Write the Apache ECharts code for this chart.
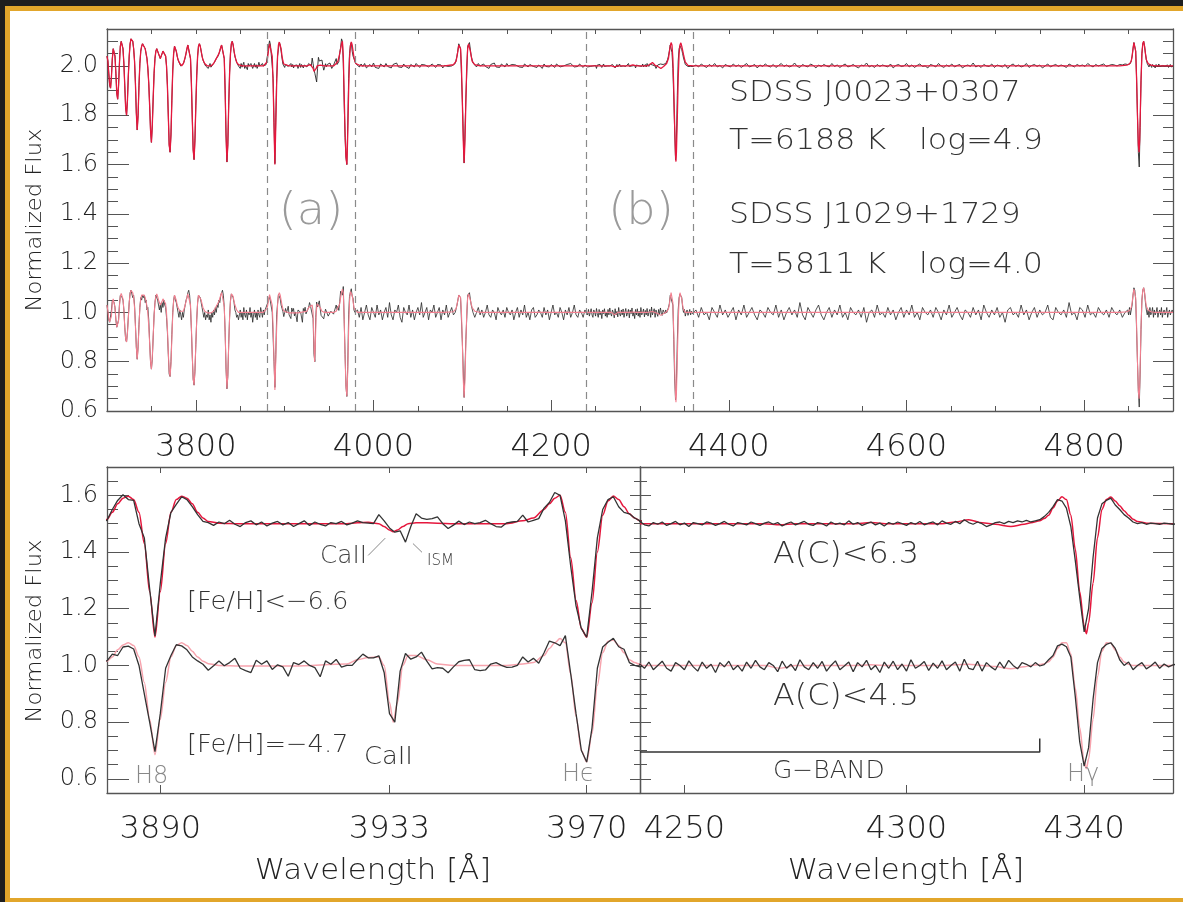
<!DOCTYPE html>
<html><head><meta charset="utf-8">
<script src="https://cdn.jsdelivr.net/npm/echarts@6/dist/echarts.min.js"></script>
<style>
html,body{margin:0;padding:0;background:#1e1e1e;width:1183px;height:902px;overflow:hidden}
#frame{position:absolute;left:5px;top:6px;width:1178px;height:896px;box-sizing:border-box;background:#fff;border-left:5px solid #e2a62b;border-top:5px solid #e2a62b;border-bottom:4px solid #e2a62b}
#chart{position:absolute;left:0;top:0;width:1183px;height:902px}
</style></head><body><div id="frame"></div><div id="chart"></div>
<script>
// ---------------- DATA (normalized flux, continuum = 1) ----------------
// Observed spectra are sampled in segments: wavelength = segStart + i*segStep
const segStart = [3700, 3880, 3982, 4240, 4363, 4850];
const segStep  = [1, 1, 2, 1, 3, 1];

// Star A: SDSS J0023+0307 (upper), Star B: SDSS J1029+1729 (lower)
const obsA1 = [1.04,1.02,0.97,0.92,0.91,0.96,1.03,1.07,1.07,1.04,
0.97,0.89,0.865,0.92,1.01,1.08,1.10,1.10,1.07,1.01,
0.92,0.83,0.80,0.86,0.96,1.04,1.09,1.11,1.11,1.10,
1.07,1.02,0.93,0.81,0.74,0.80,0.92,1.01,1.06,1.08,
1.09,1.09,1.085,1.07,1.05,1.03,0.99,0.93,0.84,0.74,
0.69,0.76,0.87,0.97,1.03,1.06,1.07,1.065,1.05,1.04,
1.03,1.035,1.05,1.06,1.06,1.055,1.04,1.00,0.92,0.80,
0.68,0.65,0.72,0.86,0.98,1.05,1.08,1.075,1.06,1.04,
1.025,1.015,1.01,1.00,1.005,0.995,1.01,1.02,1.035,1.05,
1.07,1.085,1.09,1.08,1.03,0.93,0.79,0.66,0.62,0.70,
0.84,0.96,1.04,1.08,1.09,1.08,1.06,1.04,1.025,1.015,
1.01,1.00,0.995,1.005,0.99,1.00,1.01,0.995,1.00,1.005,
1.01,1.015,1.02,1.03,1.035,1.04,1.05,1.06,1.075,1.085,
1.09,1.08,1.03,0.90,0.72,0.61,0.68,0.84,0.97,1.05,
1.09,1.10,1.085,1.06,1.04,1.025,1.015,1.01,1.00,1.005,
0.99,1.01,0.995,1.0,1.015,0.99,1.0,1.005,0.985,1.01,
1.0,0.995,1.01,1.005,0.99,1.0,1.01,0.995,1.005,0.99,
1.0,1.015,1.0,0.995,1.005,1.01,1.0,1.005,1.0,1.005];
const obsA2 = [1.012,1.05,1.082,1.102,1.085,1.082,1.0,0.95,0.77,0.604,0.79,0.95,1.04,1.068,1.095,1.085,1.06,1.032,1.008,1.004,
0.994,1.006,1.0,1.012,0.998,0.99,1.004,1.01,0.996,1.006,0.992,1.002,1.008,0.996,1.004,0.99,1.0,1.01,0.994,1.006,0.998,0.992,1.004,1.0,1.008,0.996,1.002,1.01,1.004,1.002,
1.0,1.032,1.01,0.985,0.97,0.975,0.935,0.99,1.035,1.02,1.015,1.018,1.024,1.0,0.983,0.995,1.009,0.997,1.006,1.0,1.004,1.012,1.0,0.99,0.988,1.003,1.006,1.008,1.03,1.006,1.012,1.018,
1.055,1.075,1.11,1.10,1.01,0.85,0.71,0.63,0.60,0.76,0.95,1.05,1.085,1.095,1.06,1.04,1.035,1.02,1.01];
const obsA3 = [1.004,0.996,1.008,0.998,1.01,0.992,1.0,1.006,0.996,1.012,
0.994,1.002,0.99,1.008,1.0,0.996,1.01,0.998,1.004,0.992,
1.006,1.0,1.012,0.996,1.002,0.994,1.008,0.998,1.004,0.99,
1.006,1.0,0.996,1.01,1.002,0.994,1.006,0.998,1.004,1.012,
0.996,1.0,1.008,1.0,0.994,1.006,0.998,1.004,0.992,1.002,
1.008,0.998,1.004,1.0,1.006,
1.01,1.04,1.09,1.07,0.86,0.606,0.87,1.08,1.095,1.04,1.012,
1.006,0.996,1.01,1.0,0.994,1.008,0.998,1.004,0.99,1.006,
1.002,1.012,0.996,1.0,0.994,1.008,1.002,0.996,1.01,1.0,
0.992,1.006,0.998,1.004,1.01,0.996,1.002,0.994,1.008,1.0,
0.996,1.006,1.012,0.998,1.002,0.994,1.004,1.0,0.99,1.008,
0.998,1.004,0.996,1.006,1.0,0.994,1.008,1.002,0.996,1.004,
1.0,0.992,1.006,0.998,1.01,1.002,0.996,1.004,0.998,1.008,
1.0,0.994,1.004];
const obsA4 = [1.008,0.996,0.992,1.004,0.998,1.006,0.994,1.0,1.008,0.996,
1.002,0.99,1.004,1.0,0.996,1.006,1.002,0.994,1.0,1.008,
0.998,0.992,1.004,1.0,0.996,1.006,1.0,0.994,1.002,1.006,
0.998,1.004,0.992,1.0,1.006,0.996,1.002,1.008,0.998,0.994,
1.004,1.0,0.992,1.006,0.998,1.002,0.996,1.01,0.998,1.004,
0.994,1.0,1.006,0.996,1.002,0.992,1.004,0.998,1.006,1.0,
0.994,1.004,0.998,1.008,0.996,1.002,1.006,0.996,1.01,1.002,
0.998,1.008,1.0,1.014,1.004,0.998,1.006,1.0,0.99,0.996,
1.004,1.006,1.0,1.008,1.004,1.01,1.006,1.012,
1.006,1.01,1.014,1.025,1.04,1.06,1.085,1.08,1.055,0.99,0.87,0.74,0.618,0.70,0.88,1.02,1.07,1.082,1.09,1.066,1.05,1.032,1.02,1.006,1.0,1.004,0.998,1.002,1.0,0.998,1.002,1.0,0.998];
const obsA5 = [1.004,0.996,1.008,1.0,0.994,1.006,0.998,1.01,0.996,1.002,
0.992,1.006,1.0,0.996,1.008,0.998,1.004,0.994,1.002,1.01,
0.996,1.0,1.006,0.992,1.004,0.998,1.008,1.0,0.996,1.006,
0.994,1.002,1.01,0.998,1.004,0.996,1.0,1.012,0.998,0.994,
1.006,1.0,0.996,1.008,1.002,0.992,1.004,0.998,1.006,1.0,
0.996,1.01,0.998,1.004,0.994,1.002,1.008,0.996,1.0,1.006,
0.998,0.992,1.004,1.0,1.012,0.996,1.002,0.994,1.006,0.998,
1.004,1.0,0.996,1.008,0.992,1.002,1.006,0.998,1.0,1.01,
0.996,1.004,0.994,1.002,1.008,0.998,1.0,0.992,1.006,1.002,
0.996,1.01,1.0,0.994,1.004,0.998,1.008,0.996,1.002,1.006,
0.992,1.0,1.004,0.998,1.012,0.996,1.002,0.994,1.006,1.0,
0.998,1.008,0.994,1.004,1.0,0.996,1.006,0.99,1.002,1.008,
0.998,1.004,0.996,1.0,1.01,0.994,1.002,1.006,0.998,1.004,
0.992,1.0,1.008,0.996,1.002,1.006,0.998,1.004,1.0,0.994,
1.008,1.002,0.996,1.006,1.0,1.004,0.998,1.01,1.002,0.996,
1.006,1.0,1.004,1.008,0.998,1.002,1.006,1.004,1.0,1.006,
1.004,1.008,1.006];
const obsA6 = [1.0,1.006,1.01,1.02,1.04,1.07,1.095,1.09,1.06,0.95,0.80,0.65,0.59,0.75,0.94,1.05,1.09,1.10,1.08,1.05,1.025,1.01,
1.004,0.996,1.008,1.0,0.994,1.006,0.998,1.002,0.992,1.006,1.0,0.996,1.008,0.998,1.004,0.994,1.002,1.006,0.996,1.0,1.008,0.998,1.004,0.994,1.0,1.006,0.996,1.002,1.0];

const obsB1 = [1.03,1.00,0.97,0.96,0.965,1.01,1.05,1.055,1.04,1.02,
0.97,0.94,0.935,0.97,1.03,1.07,1.075,1.06,1.05,1.01,
0.94,0.89,0.88,0.92,0.98,1.04,1.08,1.09,1.085,1.06,
1.07,1.03,0.95,0.86,0.81,0.86,0.95,1.02,1.06,1.05,
1.07,1.06,1.07,1.04,1.05,1.01,1.02,0.97,0.88,0.80,
0.77,0.81,0.90,0.99,1.04,1.07,1.075,1.05,1.03,1.01,
1.03,1.00,1.04,1.02,1.05,1.03,1.02,0.98,0.92,0.83,
0.75,0.74,0.80,0.91,1.00,1.05,1.07,1.05,1.04,1.02,
1.00,0.98,1.01,0.99,0.97,1.00,0.98,1.01,1.03,1.05,
1.06,1.08,1.09,1.07,1.02,0.93,0.82,0.73,0.705,0.76,
0.87,0.97,1.04,1.07,1.075,1.06,1.04,1.02,1.00,0.98,
1.00,0.97,0.99,0.98,1.01,0.97,0.99,0.96,1.00,0.98,
1.01,0.99,1.02,1.00,1.03,1.02,1.05,1.04,1.07,1.08,
1.09,1.07,1.02,0.92,0.77,0.69,0.74,0.87,0.98,1.05,
1.075,1.07,1.06,1.04,1.01,1.00,0.98,0.99,0.97,0.99,
1.01,0.98,1.00,0.97,1.02,0.99,0.98,1.01,0.97,1.00,
0.99,1.02,0.98,1.00,0.96,0.99,1.01,0.98,1.00,0.97,
1.01,0.99,0.98,1.02,1.00,0.98,1.01,0.99,1.01,1.015];
const obsB2 = [1.016,1.04,1.035,1.065,1.068,1.058,1.0,0.90,0.80,0.696,0.83,0.99,1.035,1.073,1.069,1.055,1.03,1.016,1.004,0.983,
0.999,1.016,0.999,1.01,1.025,0.99,0.982,0.975,1.018,1.004,1.016,0.986,1.002,0.995,0.962,1.01,1.003,1.016,1.0,0.992,0.96,1.016,1.004,1.021,0.994,1.0,1.0,1.021,1.04,1.027,1.027,1.034,
0.975,0.83,0.80,0.98,1.042,1.022,1.03,1.047,1.015,0.988,0.992,0.99,0.974,0.995,1.013,1.018,1.02,0.985,0.982,0.984,1.005,1.01,1.0,0.993,0.994,1.0,1.03,1.012,1.025,1.008,
1.045,1.086,1.08,1.07,1.105,0.97,0.83,0.70,0.659,0.78,0.99,1.065,1.082,1.096,1.066,1.057,1.01,1.0,0.995];
const obsB3 = [1.01,0.98,1.02,0.97,1.0,1.03,0.99,0.97,1.02,1.0,
0.98,1.03,0.99,1.01,0.97,1.0,1.02,0.98,1.04,0.99,
0.97,1.01,1.0,1.03,0.98,0.96,1.02,1.0,0.99,1.03,
0.98,1.01,0.97,1.0,1.02,0.99,1.04,0.98,1.0,1.02,
0.97,1.01,1.0,1.03,0.98,1.0,1.02,0.97,1.01,0.99,
1.03,0.98,1.0,1.02,0.99,
1.0,1.03,1.07,1.06,0.88,0.655,0.89,1.07,1.08,1.03,1.0,
0.98,1.0,1.02,0.99,1.01,0.98,1.0,1.03,0.99,0.98,
1.01,1.0,0.97,1.02,1.0,0.99,1.01,0.98,1.02,1.0,
0.99,1.01,0.97,1.0,1.02,0.98,1.01,0.99,1.03,0.98,
1.0,0.97,1.01,1.02,0.98,0.99,1.01,1.0,0.98,1.02,
0.99,1.01,0.97,1.0,1.03,0.99,1.0,0.98,1.02,1.0,
0.97,1.01,0.99,1.02,0.98,1.0,1.03,0.99,0.98,1.01,
1.0,0.98,1.01];
const obsB4 = [1.004,0.99,1.012,0.985,1.0,1.015,0.99,0.98,1.01,1.0,
0.985,1.016,0.995,0.98,1.012,0.99,1.004,0.975,1.01,0.995,
1.015,0.985,1.0,0.98,1.012,0.99,1.018,0.995,0.985,1.01,
1.0,0.978,1.015,0.99,1.004,0.982,1.02,0.995,0.985,1.01,
0.99,1.014,0.98,1.0,1.016,0.985,0.998,1.012,0.978,1.01,
0.995,1.018,0.985,1.0,0.975,1.012,0.99,1.015,0.985,1.005,
0.98,1.02,0.99,1.0,1.014,0.982,1.008,0.99,1.016,0.985,
1.0,1.012,0.98,1.022,0.99,0.985,1.015,0.98,1.01,0.995,
0.984,1.012,0.99,1.018,1.0,0.988,1.01,1.004,
0.995,1.01,0.998,1.003,1.02,1.035,1.069,1.075,1.066,1.03,0.89,0.73,0.645,0.71,0.88,1.01,1.06,1.074,1.08,1.06,1.02,1.0,1.012,0.985,1.0,1.01,0.988,0.998,1.012,0.99,1.005,0.995,1.002];
const obsB5 = [1.01,0.98,1.02,0.99,1.0,0.97,1.02,1.0,0.98,1.03,
0.99,1.01,0.98,1.0,1.02,0.97,1.01,0.99,1.03,0.98,
1.0,1.02,0.99,0.97,1.01,1.0,0.98,1.02,1.0,0.99,
1.03,0.98,1.01,0.97,1.0,1.02,0.99,1.01,0.98,1.04,
0.99,0.97,1.02,1.0,0.98,1.01,1.03,0.99,0.97,1.0,
1.02,0.98,1.01,0.99,1.03,0.98,1.0,0.97,1.02,1.0,
0.99,1.01,0.98,1.02,0.96,1.0,1.01,0.98,1.03,0.99,
1.0,0.98,1.02,0.99,1.01,0.97,1.0,1.02,0.98,1.01,
0.99,1.03,0.98,1.0,0.97,1.02,1.0,0.99,1.01,0.98,
1.02,1.0,0.97,1.01,0.99,1.03,0.98,1.0,1.02,0.99,
0.97,1.01,1.0,0.98,1.02,0.99,1.01,0.97,1.03,1.0,
0.98,1.01,0.99,1.02,0.98,1.0,0.96,1.01,1.02,0.99,
1.0,0.98,1.03,0.99,1.01,0.97,1.0,1.02,0.98,1.01,
0.99,1.0,1.03,0.98,0.97,1.02,1.0,0.99,1.01,0.98,
1.04,0.99,1.0,0.97,1.02,1.01,0.98,1.03,0.99,1.0,
0.98,1.02,1.0,0.99,1.01,0.98,1.02,1.0,0.99,1.01,
0.98,1.0,1.01];
const obsB6 = [0.99,1.02,0.99,1.01,1.03,1.07,1.10,1.09,1.05,0.93,0.80,0.68,0.616,0.75,0.93,1.05,1.09,1.10,1.08,1.04,1.01,0.99,
1.01,0.98,1.02,0.99,1.0,1.02,0.98,1.01,0.99,1.0,1.02,0.98,1.0,1.01,0.99,1.02,0.98,1.0,1.01,0.99,1.0,1.02,0.98,1.0,1.01,0.99,1.0,1.01,1.0];

// Model (synthetic) spectra: [wavelength, model A, model B]
const modelBlue = [[3700,1.04,1.03],[3701,1.02,1.005],[3702,0.97,0.975],[3703,0.925,0.962],[3704,0.91,0.96],[3705,0.955,0.985],[3706,1.03,1.04],[3707,1.07,1.055],[3708,1.07,1.05],[3709,1.04,1.02],[3710,0.97,0.97],[3711,0.89,0.94],[3712,0.865,0.935],[3713,0.92,0.965],[3714,1.01,1.025],[3715,1.08,1.065],[3716,1.10,1.077],[3717,1.10,1.075],[3718,1.07,1.055],[3719,1.01,1.01],[3720,0.92,0.94],[3721,0.83,0.893],[3722,0.80,0.88],[3723,0.86,0.915],[3724,0.96,0.975],[3725,1.04,1.04],[3726,1.09,1.075],[3727,1.11,1.09],[3728,1.11,1.09],[3729,1.10,1.08],[3730,1.07,1.06],[3731,1.02,1.02],[3732,0.93,0.945],[3733,0.81,0.86],[3734,0.74,0.81],[3735,0.80,0.855],[3736,0.92,0.945],[3737,1.01,1.02],[3738,1.06,1.055],[3739,1.08,1.07],[3740,1.09,1.075],[3741,1.09,1.075],[3742,1.085,1.07],[3743,1.07,1.06],[3744,1.05,1.045],[3745,1.03,1.025],[3746,0.99,0.995],[3747,0.93,0.945],[3748,0.84,0.875],[3749,0.74,0.80],[3750,0.69,0.77],[3751,0.76,0.82],[3752,0.87,0.905],[3753,0.97,0.985],[3754,1.03,1.04],[3755,1.06,1.065],[3756,1.07,1.075],[3757,1.065,1.065],[3758,1.05,1.05],[3759,1.04,1.04],[3760,1.03,1.03],[3761,1.035,1.035],[3762,1.05,1.045],[3763,1.06,1.055],[3764,1.06,1.055],[3765,1.055,1.05],[3766,1.04,1.035],[3767,1.00,1.0],[3768,0.92,0.935],[3769,0.80,0.84],[3770,0.68,0.76],[3771,0.65,0.74],[3772,0.72,0.79],[3773,0.86,0.895],[3774,0.98,0.99],[3775,1.05,1.045],[3776,1.08,1.07],[3777,1.075,1.065],[3778,1.06,1.05],[3779,1.04,1.03],[3780,1.025,1.02],[3782,1.01,1.005],[3784,1.0,1.0],[3786,1.01,1.005],[3788,1.035,1.03],[3790,1.07,1.06],[3791,1.085,1.075],[3792,1.09,1.08],[3793,1.08,1.075],[3794,1.03,1.03],[3795,0.93,0.94],[3796,0.79,0.83],[3797,0.66,0.73],[3798,0.62,0.705],[3799,0.70,0.765],[3800,0.84,0.87],[3801,0.96,0.97],[3802,1.04,1.04],[3803,1.08,1.07],[3804,1.09,1.075],[3805,1.08,1.065],[3806,1.06,1.05],[3807,1.04,1.035],[3808,1.025,1.02],[3810,1.01,1.005],[3813,1.0,0.998],[3817,1.0,0.998],[3820,1.01,1.005],[3823,1.03,1.025],[3826,1.05,1.045],[3828,1.075,1.07],[3829,1.085,1.08],[3830,1.09,1.085],[3831,1.08,1.075],[3832,1.03,1.025],[3833,0.90,0.92],[3834,0.72,0.78],[3835,0.61,0.69],[3836,0.68,0.745],[3837,0.84,0.87],[3838,0.97,0.98],[3839,1.05,1.045],[3840,1.09,1.075],[3841,1.10,1.075],[3842,1.085,1.065],[3843,1.06,1.045],[3844,1.04,1.03],[3846,1.015,1.01],[3848,1.005,1.0],[3852,1.0,1.0],[3876,1.0,1.0],[3878,1.002,1.0]];
const modelH8CaHe = [[3880,1.015,1.015],[3881,1.04,1.03],[3882,1.07,1.055],[3883,1.09,1.072],[3884,1.097,1.08],[3885,1.085,1.07],[3886,1.04,1.03],[3887,0.93,0.94],[3888,0.76,0.81],[3889,0.60,0.685],[3890,0.76,0.81],[3891,0.93,0.94],[3892,1.04,1.03],[3893,1.085,1.07],[3894,1.097,1.08],[3895,1.09,1.07],[3896,1.07,1.05],[3897,1.04,1.03],[3898,1.02,1.015],[3899,1.008,1.006],[3901,1.002,1.0],[3905,1.0,0.998],[3915,1.0,0.998],[3925,1.0,1.005],[3927,1.003,1.02],[3929,1.005,1.028],[3931,1.0,1.03],[3932,0.99,1.0],[3933,0.978,0.87],[3933.7,0.972,0.80],[3934.5,0.978,0.87],[3935.5,0.99,1.0],[3936.5,1.0,1.035],[3938,1.003,1.035],[3940,1.003,1.02],[3942,1.002,1.005],[3945,1.0,1.0],[3955,1.0,1.0],[3958,1.01,1.005],[3960,1.02,1.01],[3962,1.05,1.035],[3963,1.07,1.06],[3964,1.09,1.08],[3965,1.10,1.095],[3966,1.04,1.08],[3967,0.88,0.97],[3968,0.73,0.82],[3969,0.63,0.70],[3970,0.60,0.66],[3971,0.72,0.76],[3972,0.90,0.93],[3973,1.03,1.045],[3974,1.08,1.085],[3975,1.098,1.09],[3976,1.085,1.07],[3977,1.06,1.045],[3978,1.035,1.02],[3979,1.02,1.01],[3980,1.01,1.004],[3982,1.002,1.0],[3986,1.0,1.0]];
const modelHdelta = [[4080,1.0,1.0],[4090,1.005,1.003],[4093,1.02,1.015],[4095,1.06,1.05],[4096,1.085,1.07],[4097,1.09,1.075],[4098,1.07,1.06],[4099,1.0,1.0],[4100,0.86,0.88],[4101,0.70,0.73],[4102,0.606,0.655],[4103,0.70,0.73],[4104,0.86,0.88],[4105,1.0,1.0],[4106,1.07,1.06],[4107,1.09,1.075],[4108,1.085,1.07],[4109,1.06,1.05],[4111,1.02,1.02],[4114,1.005,1.005],[4120,1.0,1.0]];
const modelHgamma = [[4230,1.0,1.0],[4240,1.0,1.0],[4255,1.0,1.0],[4268,1.0,1.0],[4271.5,0.996,0.99],[4275,1.0,1.0],[4288,1.0,1.0],[4292,1.004,1.002],[4296,1.0,1.0],[4308,1.0,1.0],[4311,1.006,1.002],[4314,1.014,1.004],[4317,1.003,1.0],[4320,0.998,0.996],[4323.5,0.99,0.988],[4326.5,0.998,0.995],[4328,1.003,1.0],[4330,1.01,1.003],[4331,1.018,1.006],[4332,1.03,1.013],[4333,1.055,1.03],[4334,1.08,1.06],[4335,1.095,1.08],[4336,1.085,1.08],[4337,1.03,1.04],[4338,0.91,0.92],[4339,0.76,0.78],[4340,0.64,0.66],[4340.5,0.612,0.636],[4341,0.65,0.67],[4342,0.79,0.81],[4343,0.95,0.96],[4344,1.05,1.05],[4345,1.085,1.08],[4346,1.094,1.078],[4347,1.08,1.055],[4348,1.063,1.03],[4349,1.046,1.012],[4350,1.03,1.004],[4351,1.016,1.0],[4352,1.008,1.0],[4354,1.002,1.0],[4360,1.0,1.0]];
const modelHbeta = [[4360,1.0,1.0],[4840,1.0,1.0],[4848,1.003,1.003],[4851,1.008,1.008],[4853,1.02,1.02],[4854,1.04,1.04],[4855,1.07,1.07],[4856,1.095,1.095],[4857,1.09,1.09],[4858,1.06,1.06],[4859,0.95,0.95],[4860,0.80,0.80],[4861,0.68,0.68],[4861.8,0.65,0.65],[4862.5,0.70,0.70],[4863,0.78,0.78],[4864,0.94,0.94],[4865,1.05,1.05],[4866,1.09,1.09],[4867,1.10,1.10],[4868,1.08,1.08],[4869,1.05,1.05],[4870,1.025,1.025],[4872,1.01,1.01],[4875,1.003,1.003],[4880,1.0,1.0],[4900,1.0,1.0]];

// vertical offsets used in the figure
const offsetTopA = 1.0, offsetBotA = 0.5, offsetB = 0.0;

// axes / ticks
const topXTicks = [3800, 4000, 4200, 4400, 4600, 4800];
const topYTicks = [0.6, 0.8, 1.0, 1.2, 1.4, 1.6, 1.8, 2.0];
const botYTicks = [0.6, 0.8, 1.0, 1.2, 1.4, 1.6];
const leftXTicks = [3890, 3933, 3970];
const rightXTicks = [4250, 4300, 4340];
const zoomEdges = [3880, 3980, 4240, 4360];
const gBand = [[4240, 0.695], [4330, 0.695], [4330, 0.742]];
const caLeader = [[3929.0, 1.388], [3932.2, 1.449]];
const ismLeader = [[3937.4, 1.430], [3939.1, 1.399]];

// ---------------- BUILD ----------------
const obsASegs = [obsA1, obsA2, obsA3, obsA4, obsA5, obsA6];
const obsBSegs = [obsB1, obsB2, obsB3, obsB4, obsB5, obsB6];
function buildObs(segs, off) {
  const out = [];
  segs.forEach((arr, s) => arr.forEach((v, i) => out.push([+(segStart[s] + i * segStep[s]).toFixed(2), +(v + off).toFixed(4)])));
  return out;
}
const modelRows = [].concat(modelBlue, modelH8CaHe, modelHdelta, modelHgamma, modelHbeta);
function buildMod(col, off) { return modelRows.map(r => [r[0], +(r[col] + off).toFixed(4)]); }
function win(d, lo, hi) { return d.filter(p => p[0] >= lo - 3 && p[0] <= hi + 3); }

function range(a, b, st) { const r = []; for (let v = a; v <= b + 1e-9; v += st) r.push(+v.toFixed(3)); return r; }
function minus(all, major) { return all.filter(v => !major.some(m => Math.abs(m - v) < 1e-6)); }

const FONT = "'DejaVu Sans', sans-serif";
const AX = '#555';

function xAx(gi, min, max, o) {
  return Object.assign({
    type: 'value', gridIndex: gi, min: min, max: max, position: 'bottom',
    axisLine: { show: true, lineStyle: { color: AX, width: 1.3 } },
    axisTick: { show: true, inside: true, length: 5, lineStyle: { color: AX, width: 1 } },
    axisLabel: { show: false }, splitLine: { show: false }
  }, o);
}
function yAx(gi, min, max, o) {
  return Object.assign({
    type: 'value', gridIndex: gi, min: min, max: max, position: 'left',
    axisLine: { show: true, lineStyle: { color: AX, width: 1.3 } },
    axisTick: { show: true, inside: true, length: 5, lineStyle: { color: AX, width: 1 } },
    axisLabel: { show: false }, splitLine: { show: false }
  }, o);
}

const topMinorX = minus(range(3750, 4850, 50), topXTicks);
const topAllX = range(3750, 4850, 50);
const topMinorY = minus(range(0.65, 2.10, 0.05), topYTicks);
const botMinorY = minus(range(0.60, 1.65, 0.05), botYTicks);
const botMajorY = botYTicks;

const xLabStyle = { show: true, fontFamily: FONT, fontWeight: 200, fontSize: 32, color: '#222', margin: 21, formatter: v => String(v) };
const yLabStyle = { show: true, fontFamily: FONT, fontWeight: 200, fontSize: 24, color: '#222', margin: 9, formatter: v => v.toFixed(1) };

const xAxis = [
  xAx(0, 3700, 4900, { axisTick: { show: true, inside: true, length: 11, customValues: topXTicks, lineStyle: { color: AX } }, axisLabel: Object.assign({}, xLabStyle, { customValues: topXTicks }) }),
  xAx(0, 3700, 4900, { axisLine: { show: false }, axisTick: { show: true, inside: true, length: 5, customValues: topMinorX, lineStyle: { color: AX } } }),
  xAx(0, 3700, 4900, { position: 'top', axisTick: { show: true, inside: true, length: 5, customValues: topAllX, lineStyle: { color: AX } } }),
  xAx(1, 3880, 3980, { axisTick: { show: true, inside: true, length: 8, customValues: leftXTicks, lineStyle: { color: AX } }, axisLabel: Object.assign({}, xLabStyle, { customValues: leftXTicks }) }),
  xAx(1, 3880, 3980, { position: 'top', axisTick: { show: true, inside: true, length: 6, customValues: leftXTicks, lineStyle: { color: AX } } }),
  xAx(2, 4240, 4360, { axisTick: { show: true, inside: true, length: 8, customValues: rightXTicks, lineStyle: { color: AX } }, axisLabel: Object.assign({}, xLabStyle, { customValues: rightXTicks }) }),
  xAx(2, 4240, 4360, { position: 'top', axisTick: { show: true, inside: true, length: 6, customValues: rightXTicks, lineStyle: { color: AX } } })
];
const yAxis = [
  yAx(0, 0.6, 2.15, { axisTick: { show: true, inside: true, length: 22, customValues: topYTicks, lineStyle: { color: AX } }, axisLabel: Object.assign({}, yLabStyle, { customValues: topYTicks }) }),
  yAx(0, 0.6, 2.15, { axisLine: { show: false }, axisTick: { show: true, inside: true, length: 11, customValues: topMinorY, lineStyle: { color: AX } } }),
  yAx(0, 0.6, 2.15, { position: 'right', axisTick: { show: true, inside: true, length: 20, customValues: topYTicks, lineStyle: { color: AX } } }),
  yAx(0, 0.6, 2.15, { position: 'right', axisLine: { show: false }, axisTick: { show: true, inside: true, length: 10, customValues: topMinorY, lineStyle: { color: AX } } }),
  yAx(1, 0.55, 1.7, { axisTick: { show: true, inside: true, length: 22, customValues: botMajorY, lineStyle: { color: AX } }, axisLabel: Object.assign({}, yLabStyle, { customValues: botYTicks }) }),
  yAx(1, 0.55, 1.7, { axisLine: { show: false }, axisTick: { show: true, inside: true, length: 11, customValues: botMinorY, lineStyle: { color: AX } } }),
  yAx(1, 0.55, 1.7, { position: 'right', axisTick: { show: true, inside: true, length: 10, customValues: botMajorY, lineStyle: { color: AX } } }),
  yAx(1, 0.55, 1.7, { position: 'right', axisLine: { show: false }, axisTick: { show: true, inside: true, length: 6, customValues: botMinorY, lineStyle: { color: AX } } }),
  yAx(2, 0.55, 1.7, { axisTick: { show: true, inside: true, length: 11, customValues: botMajorY, lineStyle: { color: AX } } }),
  yAx(2, 0.55, 1.7, { axisLine: { show: false }, axisTick: { show: true, inside: true, length: 7, customValues: botMinorY, lineStyle: { color: AX } } }),
  yAx(2, 0.55, 1.7, { position: 'right', axisTick: { show: true, inside: true, length: 20, customValues: botMajorY, lineStyle: { color: AX } } }),
  yAx(2, 0.55, 1.7, { position: 'right', axisLine: { show: false }, axisTick: { show: true, inside: true, length: 10, customValues: botMinorY, lineStyle: { color: AX } } })
];

const obsTopA = buildObs(obsASegs, offsetTopA), obsTopB = buildObs(obsBSegs, offsetB);
const obsBotA = buildObs(obsASegs, offsetBotA), obsBotB = obsTopB;
const modTopA = buildMod(1, offsetTopA), modTopB = buildMod(2, offsetB);
const modBotA = buildMod(1, offsetBotA), modBotB = modTopB;

const RED = '#e5173d', PINK = '#f27f8f', BLK = '#262626';
function ln(xi, yi, data, color, width, z, extra) {
  return Object.assign({ type: 'line', xAxisIndex: xi, yAxisIndex: yi, data: data, showSymbol: false, symbol: 'none', silent: true,
    animation: false, lineStyle: { color: color, width: width }, z: z, clip: true }, extra || {});
}
const SM = { smooth: 0.3, smoothMonotone: 'x' };

const series = [
  ln(0, 0, obsTopB, BLK, 0.8, 2, {
    markLine: { silent: true, symbol: 'none', animation: false, label: { show: false },
      lineStyle: { color: '#8a8a8a', width: 1.2, type: [7, 5] },
      data: zoomEdges.map(v => ({ xAxis: v })) }
  }),
  ln(0, 0, obsTopA, BLK, 0.9, 2),
  ln(0, 0, modTopB, PINK, 1.1, 3),
  ln(0, 0, modTopA, RED, 1.3, 3),
  // bottom left
  ln(3, 4, win(modBotA, 3880, 3980), RED, 1.5, 2, SM),
  ln(3, 4, win(modBotB, 3880, 3980), '#f7a3ad', 1.5, 2, SM),
  ln(3, 4, win(obsBotA, 3880, 3980), '#333', 1.3, 3),
  ln(3, 4, win(obsBotB, 3880, 3980), '#333', 1.3, 3),
  ln(3, 4, caLeader, '#888', 1, 4),
  ln(3, 4, ismLeader, '#888', 1, 4),
  // bottom right
  ln(5, 8, win(modBotA, 4240, 4360), RED, 1.5, 2, SM),
  ln(5, 8, win(modBotB, 4240, 4360), '#f7a3ad', 1.5, 2, SM),
  ln(5, 8, win(obsBotA, 4240, 4360), '#333', 1.3, 3),
  ln(5, 8, win(obsBotB, 4240, 4360), '#333', 1.3, 3),
  ln(5, 8, gBand, '#333', 1.5, 4)
];

function txt(x, y, s, size, color, align, sx, rot) {
  const e = { type: 'text', x: x, y: y, silent: true, z: 50, scaleX: sx || 1,
    style: { text: s, fill: color, font: '200 ' + size + 'px ' + FONT, align: align || 'left', verticalAlign: 'middle' } };
  if (rot) e.rotation = rot;
  return e;
}
const graphic = [
  txt(35, 220, 'Normalized Flux', 22, '#222', 'center', 1.03, Math.PI / 2),
  txt(35, 631, 'Normalized Flux', 22, '#222', 'center', 1.03, Math.PI / 2),
  txt(729, 94, 'SDSS J0023+0307', 28, '#333', 'left', 1.13),
  txt(729, 142, 'T=6188 K', 28, '#333', 'left', 1.13),
  txt(919, 142, 'log=4.9', 28, '#333', 'left', 1.13),
  txt(729, 216, 'SDSS J1029+1729', 28, '#333', 'left', 1.13),
  txt(729, 266, 'T=5811 K', 28, '#333', 'left', 1.13),
  txt(919, 266, 'log=4.0', 28, '#333', 'left', 1.13),
  txt(311, 213, '(a)', 44, '#9a9a9a', 'center', 1.05),
  txt(641, 213, '(b)', 44, '#9a9a9a', 'center', 1.05),
  txt(187, 602, '[Fe/H]<\u22126.6', 25, '#333', 'left', 1.03),
  txt(187, 745, '[Fe/H]=\u22124.7', 25, '#333', 'left', 1.03),
  txt(320, 557, 'CaII', 24, '#444', 'left', 1.03),
  txt(427, 561, 'ISM', 15, '#333'),
  txt(364, 757, 'CaII', 25, '#333', 'left', 1.03),
  txt(135, 777, 'H8', 24, '#888'),
  txt(562, 775, 'H\u03f5', 24, '#888'),
  txt(773, 555, 'A(C)<6.3', 30, '#333', 'left', 1.06),
  txt(773, 697, 'A(C)<4.5', 30, '#333', 'left', 1.06),
  txt(773, 771, 'G\u2212BAND', 25, '#333'),
  txt(1067, 775, 'H\u03b3', 24, '#888'),
  txt(373, 872, 'Wavelength [\u00c5]', 28, '#222', 'center', 1.1),
  txt(906, 872, 'Wavelength [\u00c5]', 28, '#222', 'center', 1.1)
];

const chart = echarts.init(document.getElementById('chart'), null, { renderer: 'canvas' });
chart.setOption({
  animation: false,
  backgroundColor: 'transparent',
  textStyle: { fontFamily: FONT },
  grid: [
    { left: 107, top: 29, width: 1066, height: 382 },
    { left: 107, top: 467, width: 533, height: 326 },
    { left: 640, top: 467, width: 533, height: 326 }
  ],
  xAxis: xAxis, yAxis: yAxis, series: series, graphic: graphic
});
</script></body></html>
